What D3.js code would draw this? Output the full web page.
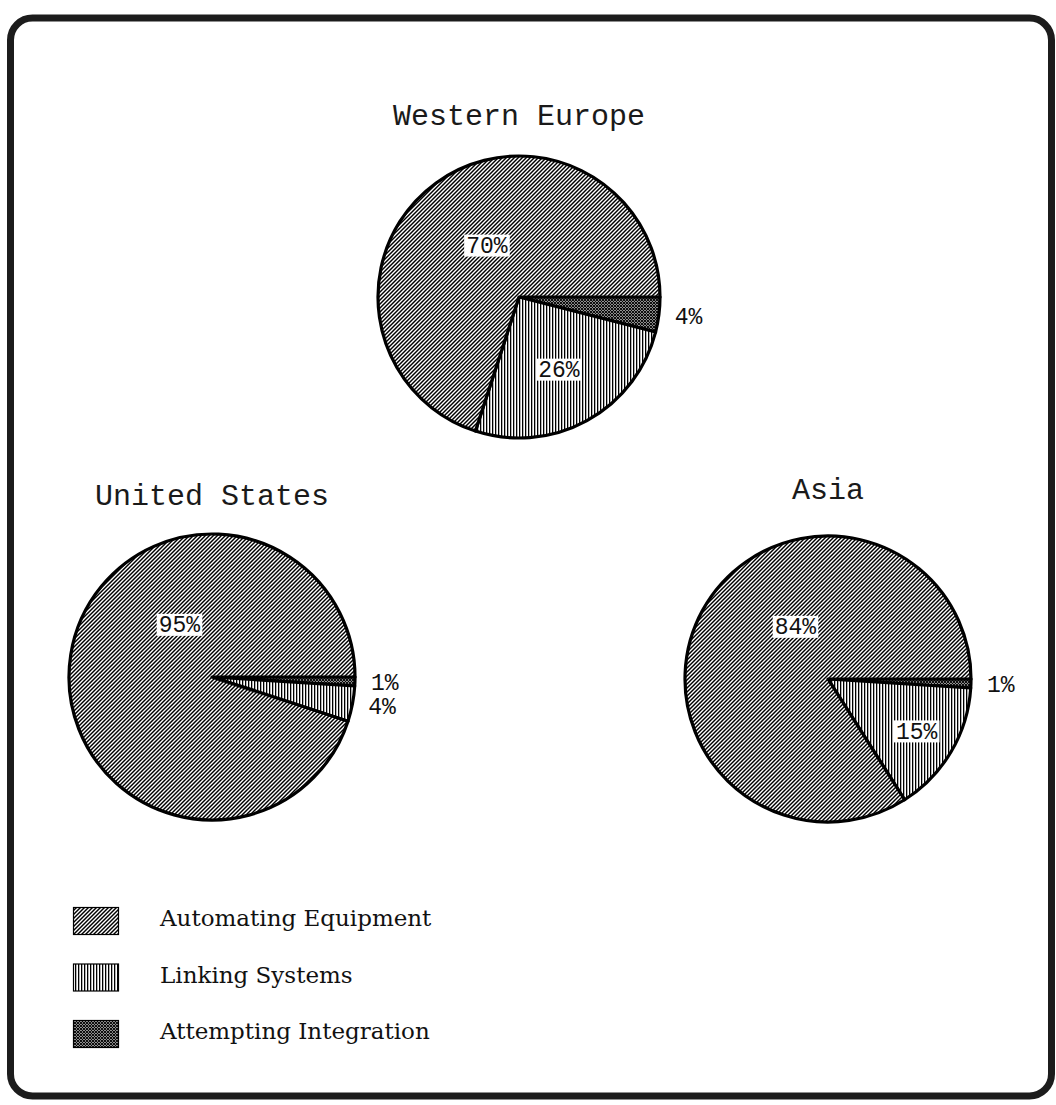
<!DOCTYPE html>
<html>
<head>
<meta charset="utf-8">
<script src="https://cdn.jsdelivr.net/npm/d3@7"></script>
<style>
  html, body { margin: 0; padding: 0; background: #fff; }
  svg { display: block; }
</style>
</head>
<body>
<svg id="chart" width="1056" height="1105"></svg>
<script>
// ---- data ----
const categories = ["Attempting Integration", "Linking Systems", "Automating Equipment"];
const regions = ["Western Europe", "United States", "Asia"];
const westernEurope = [4, 26, 70];
const unitedStates = [1, 4, 95];
const asia = [1, 15, 84];
const legendOrder = ["Automating Equipment", "Linking Systems", "Attempting Integration"];

// ---- layout (not data) ----
const W = 1056, H = 1105;
const layout = [
  { cx: 519, cy: 297, r: 141, titleY: 125, values: westernEurope },
  { cx: 212, cy: 677, r: 143, titleY: 505, values: unitedStates },
  { cx: 828, cy: 679, r: 143, titleY: 499, values: asia }
];

const svg = d3.select("#chart");
svg.append("rect").attr("width", W).attr("height", H).attr("fill", "#fff");

// ---- patterns ----
const defs = svg.append("defs");
function pat(id, w, h, build) {
  const p = defs.append("pattern").attr("id", id)
    .attr("patternUnits", "userSpaceOnUse").attr("width", w).attr("height", h);
  p.append("rect").attr("width", w).attr("height", h).attr("fill", "#fff");
  build(p);
}
pat("p-auto", 4, 4, p => {
  p.append("path").attr("d", "M-1,1 L1,-1 M0,4 L4,0 M3,5 L5,3")
    .attr("stroke", "#000").attr("stroke-width", 1.45);
});
pat("p-link", 3, 3, p => {
  p.append("rect").attr("x", 0).attr("y", 0).attr("width", 1.3).attr("height", 3).attr("fill", "#000");
});
pat("p-integ", 3, 3, p => {
  p.append("path").attr("d", "M-1,1 L1,-1 M0,3 L3,0 M2,4 L4,2 M-1,2 L1,4 M0,0 L3,3 M2,-1 L4,1")
    .attr("stroke", "#000").attr("stroke-width", 1.05);
});
const fillOf = d3.scaleOrdinal()
  .domain(categories)
  .range(["url(#p-integ)", "url(#p-link)", "url(#p-auto)"]);

// ---- border ----
svg.append("rect")
  .attr("x", 10.5).attr("y", 18).attr("width", 1041).attr("height", 1078)
  .attr("rx", 22).attr("ry", 22)
  .attr("fill", "none").attr("stroke", "#1c1c1c").attr("stroke-width", 7);

// ---- pies ----
const monoFont = "'Liberation Mono', 'DejaVu Sans Mono', monospace";

layout.forEach((L, i) => {
  const g = svg.append("g").attr("transform", `translate(${L.cx},${L.cy})`);
  const pieData = d3.pie().sort(null).value(d => d.v)
    .startAngle(Math.PI / 2).endAngle(Math.PI / 2 + 2 * Math.PI)(
      categories.map((c, k) => ({ cat: c, v: L.values[k] })));
  const arc = d3.arc().innerRadius(0).outerRadius(L.r);

  g.selectAll("path.slice").data(pieData).join("path")
    .attr("class", "slice")
    .attr("d", arc)
    .attr("fill", d => fillOf(d.data.cat))
    .attr("stroke", "#000").attr("stroke-width", 3.2)
    .attr("stroke-linejoin", "round");

  // title
  svg.append("text")
    .attr("x", L.cx).attr("y", L.titleY)
    .attr("text-anchor", "middle")
    .attr("font-family", monoFont).attr("font-size", 30)
    .attr("fill", "#1a1a1a")
    .text(regions[i]);

  // labels
  const maxV = d3.max(L.values);
  pieData.forEach(d => {
    const v = d.data.v;
    const txt = v + "%";
    let x, y, anchor, boxed;
    const mid = (d.startAngle + d.endAngle) / 2;
    if (v < 5) {
      const rr = L.r + 16;
      x = Math.sin(mid) * rr; y = -Math.cos(mid) * rr;
      anchor = "start"; boxed = false;
    } else if (v === maxV) {
      const a = (238 + 90) * Math.PI / 180;
      const rr = L.r * 0.43;
      x = Math.sin(a) * rr; y = -Math.cos(a) * rr;
      anchor = "middle"; boxed = true;
    } else {
      const rr = L.r * (0.9 - 0.012 * v);
      x = Math.sin(mid) * rr; y = -Math.cos(mid) * rr;
      anchor = "middle"; boxed = true;
    }
    const fs = 23;
    const t = g.append("text")
      .attr("x", x).attr("y", y + fs * 0.33)
      .attr("text-anchor", anchor)
      .attr("font-family", monoFont).attr("font-size", fs)
      .attr("fill", "#111")
      .text(txt);
    if (boxed) {
      const bb = t.node().getBBox();
      g.insert("rect", function () { return t.node(); })
        .attr("x", bb.x - 2).attr("y", y - 11)
        .attr("width", bb.width + 4).attr("height", 22)
        .attr("fill", "#fff");
    }
  });
});

// ---- legend ----
const legend = svg.append("g");
const ly = d3.scalePoint().domain(legendOrder).range([921, 1034]);
legendOrder.forEach(c => {
  legend.append("rect")
    .attr("x", 73.5).attr("y", ly(c) - 13.5)
    .attr("width", 45).attr("height", 27)
    .attr("fill", fillOf(c)).attr("stroke", "#000").attr("stroke-width", 1.2);
  legend.append("text")
    .attr("x", 160).attr("y", ly(c) + 5)
    .attr("font-family", "'DejaVu Serif', serif").attr("font-size", 23)
    .attr("fill", "#111")
    .text(c);
});
</script>
</body>
</html>
